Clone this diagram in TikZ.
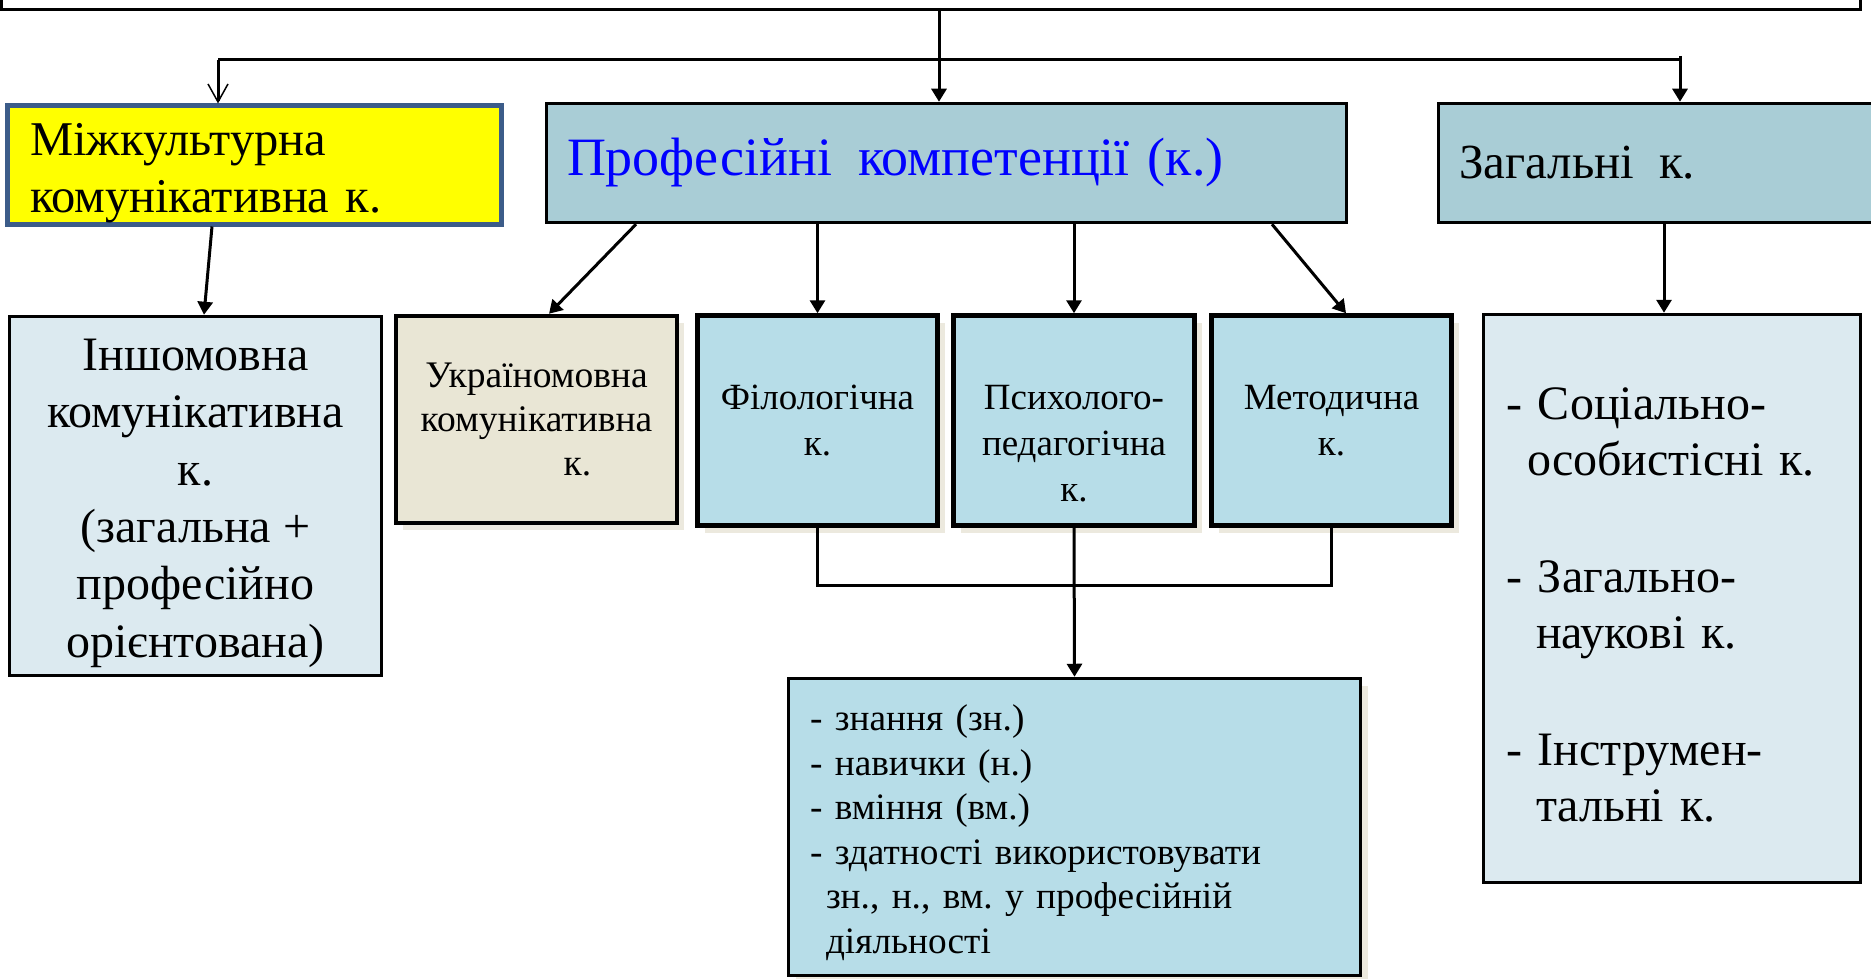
\documentclass[tikz,border=0pt]{standalone}
\usepackage{fontspec}
\setmainfont{Liberation Serif}
\usetikzlibrary{arrows.meta,calc,positioning,shadows}
\definecolor{yellowfill}{RGB}{255,255,0}
\definecolor{yellowedge}{RGB}{60,92,137}
\definecolor{headfill}{RGB}{169,205,214}
\definecolor{palefill}{RGB}{220,234,240}
\definecolor{beigefill}{RGB}{233,230,213}
\definecolor{skyfill}{RGB}{183,221,232}
\definecolor{shadowtone}{RGB}{236,233,222}
\definecolor{titleblue}{RGB}{0,0,255}
\tikzset{box/.style={draw,line width=3.5pt,inner sep=0pt,align=center},
 shadebox/.style={box,line width=4.5pt,general shadow={fill=shadowtone,shadow xshift=7pt,shadow yshift=-7pt}},
 link/.style={line width=3pt},
 arr/.style={link,-{Triangle[length=13pt,width=15pt]}},
 openarr/.style={link,-{Straight Barb[length=18pt,width=20pt,line width=1.5pt]}}}
\frenchspacing

\begin{document}
\begin{tikzpicture}[x=1pt,y=-1pt]
\useasboundingbox (0,0) rectangle (1871,979);
\clip (0,0) rectangle (1871,979);
% top row
\node[box,line width=3pt,minimum width=1859pt,minimum height=100pt] (root) at (931,-40) {};
\node[box,line width=5pt,draw=yellowedge,fill=yellowfill,minimum width=494pt,minimum height=118pt,
 text width=449pt,align=left,font=\fontsize{48.5}{57}\selectfont] (mkk) at (254.5,165)
 {\rule{0pt}{48pt}Міжкультурна\\комунікативна к.};
\node[box,fill=headfill,minimum width=800pt,minimum height=119pt,text width=759pt,align=left,
 text=titleblue,font=\fontsize{54}{64}\selectfont] (prof) at (946.5,163) {Професійні\hspace{26pt}компетенції (к.)};
\node[box,fill=headfill,minimum width=461.5pt,minimum height=119pt,text width=420.5pt,align=left,
 font=\fontsize{49}{58}\selectfont] (zag) at (1669.25,163) {Загальні\hspace{25pt}к.};
% second row
\node[box,fill=palefill,minimum width=372pt,minimum height=359pt,font=\fontsize{48}{57.3}\selectfont] (ino) at (195.5,496)
 {\rule{0pt}{46pt}Іншомовна\\комунікативна\\к.\\(загальна +\\професійно\\орієнтована)};
\node[shadebox,fill=beigefill,minimum width=281pt,minimum height=207pt,font=\fontsize{37.5}{44}\selectfont] (ukr) at (536.5,419.5)
 {Україномовна\\комунікативна\\\hspace*{82pt}к.};
\node[shadebox,fill=skyfill,minimum width=240pt,minimum height=210pt,font=\fontsize{37}{46}\selectfont] (fil) at (817.5,420.5)
 {Філологічна\\к.};
\node[shadebox,fill=skyfill,minimum width=241pt,minimum height=210pt] (psy) at (1074,420.5) {};
\node[align=center,inner sep=0pt,font=\fontsize{37}{46}\selectfont] (psytext) at ([yshift=-23pt]psy.center)
 {Психолого-\\педагогічна\\к.};
\node[shadebox,fill=skyfill,minimum width=240pt,minimum height=210pt,font=\fontsize{37}{46}\selectfont] (met) at (1331.5,420.5)
 {Методична\\к.};
\node[box,fill=palefill,minimum width=377pt,minimum height=568pt,text width=332pt,align=left,
 font=\fontsize{48}{56}\selectfont] (gen) at (1672,598.5)
 {\rule{0pt}{44pt}- Соціально-\\\hspace*{21pt}особистісні к.\\[61pt]- Загально-\\\hspace*{30pt}наукові к.\\[61pt]- Інструмен-\\\hspace*{30pt}тальні к.};
% bottom
\node[shadebox,line width=3.5pt,fill=skyfill,minimum width=572pt,minimum height=297pt,text width=529pt,align=left,
 font=\fontsize{37.3}{44.5}\selectfont] (bot) at (1074.5,827)
 {\rule{0pt}{37pt}- знання (зн.)\\- навички (н.)\\- вміння (вм.)\\- здатності використовувати\\\hspace*{16pt}зн., н., вм. у професійній\\\hspace*{16pt}діяльності};
% connectors
\coordinate (busL) at (218,60);
\coordinate (busR) at (1680,60);
\coordinate (hub) at (939,60);
\draw[link] (busL) -- (busR);
\draw[arr] (root.south -| hub) -- (prof.north -| hub);
\draw[openarr] (busL) -- (mkk.north -| busL);
\draw[arr] ([yshift=4pt]busR) -- (zag.north -| busR);
\draw[arr] ([xshift=-42.5pt]mkk.south) -- ([xshift=8.5pt]ino.north);
\draw[arr] ([xshift=-310.5pt]prof.south) -- ([xshift=12.5pt]ukr.north);
\draw[arr] (prof.south -| fil.north) -- (fil.north);
\draw[arr] (prof.south -| psy.north) -- (psy.north);
\draw[arr] ([xshift=325.5pt]prof.south) -- ([xshift=14.5pt]met.north);
\draw[arr] ([xshift=-8pt]gen.north |- zag.south) -- ([xshift=-8pt]gen.north);
\draw[link] (fil.south) -- ++(0,58) -| (met.south);
\draw[arr] (psy.south) -- (bot.north);
\end{tikzpicture}
\end{document}
